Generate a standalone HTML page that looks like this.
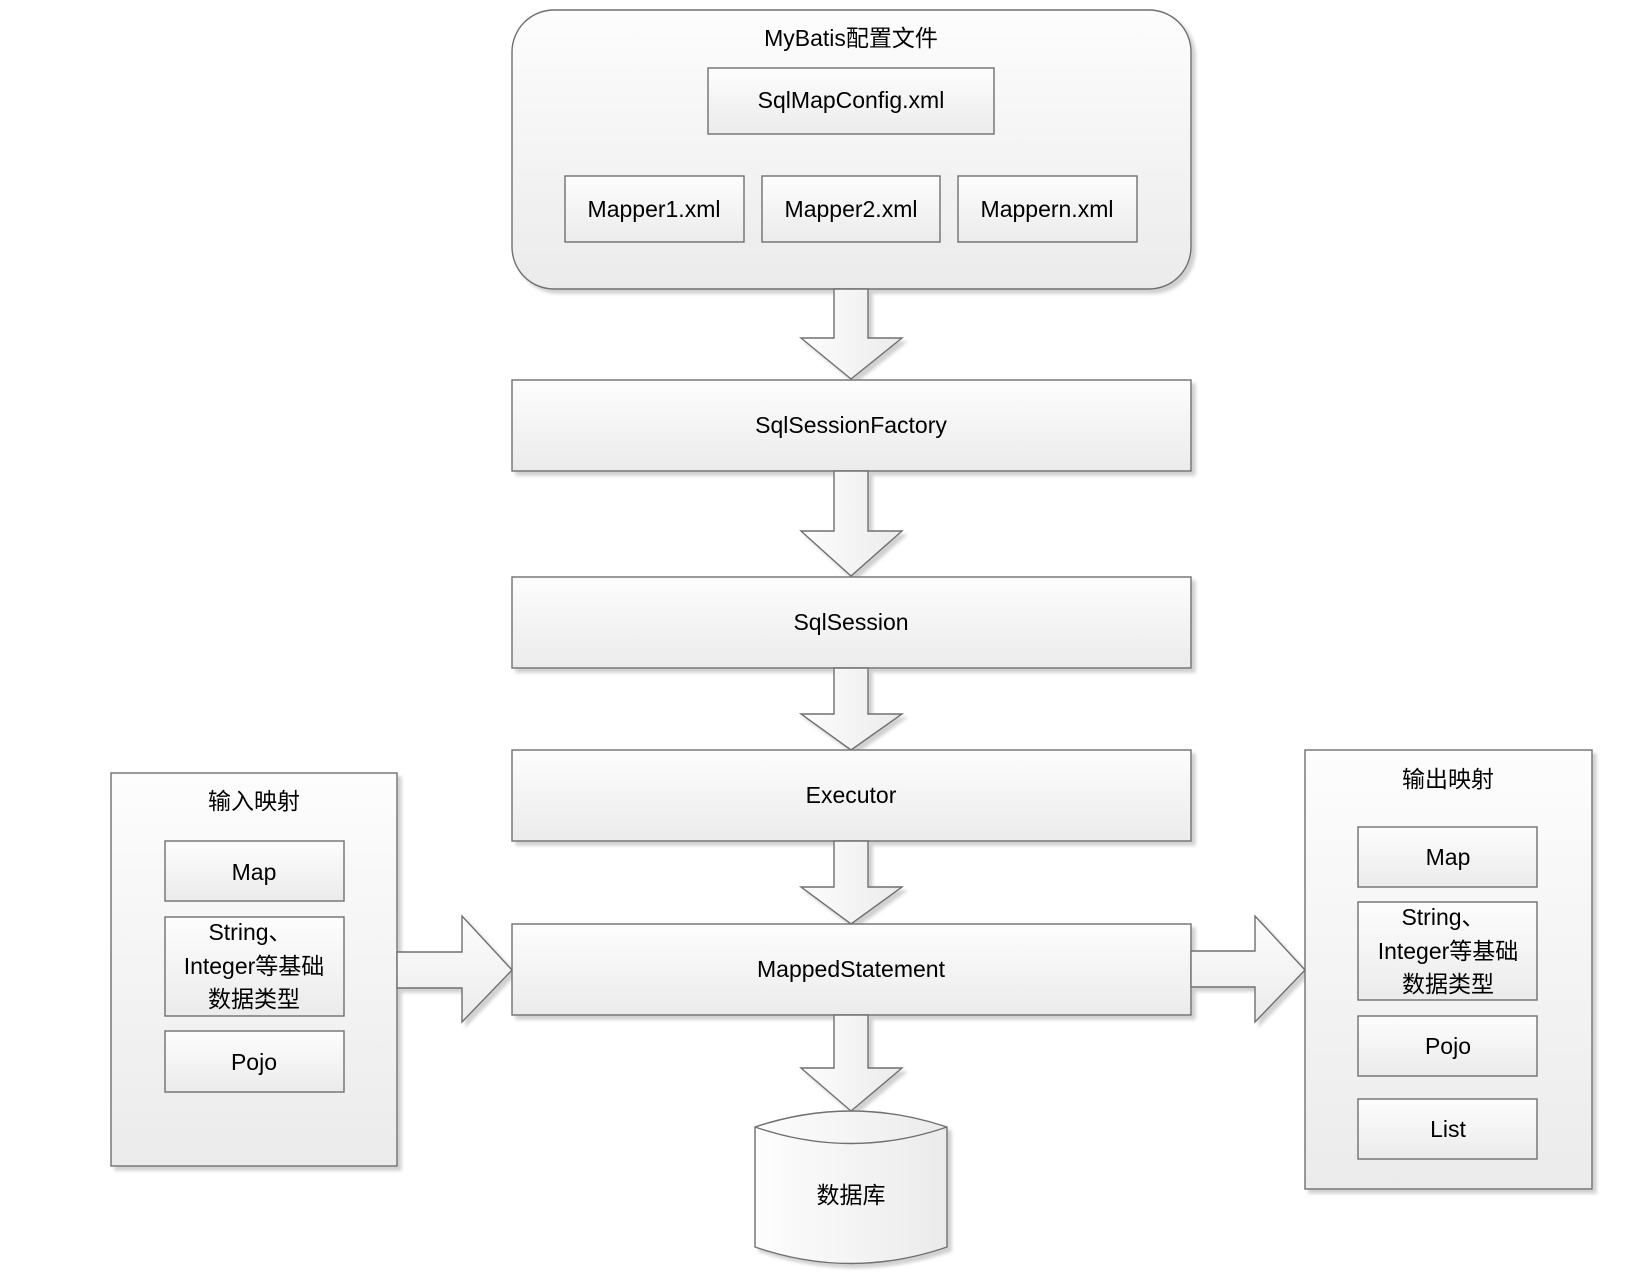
<!DOCTYPE html>
<html><head><meta charset="utf-8"><style>
html,body{margin:0;padding:0;background:#fff}
svg{display:block}
text{font-family:"Liberation Sans","Noto Sans CJK SC",sans-serif;font-size:23px;fill:#000;text-anchor:middle}
</style></head><body>
<svg width="1638" height="1272" viewBox="0 0 1638 1272" xmlns="http://www.w3.org/2000/svg">
<defs>
<linearGradient id="g" x1="0" y1="0" x2="0" y2="1"><stop offset="0" stop-color="#fdfdfd"/><stop offset="1" stop-color="#ebebeb"/></linearGradient>
<linearGradient id="gh" x1="0" y1="0" x2="1" y2="0"><stop offset="0" stop-color="#fdfdfd"/><stop offset="1" stop-color="#ebebeb"/></linearGradient>
<filter id="s" x="-5%" y="-5%" width="115%" height="115%"><feDropShadow dx="4" dy="4" stdDeviation="1.5" flood-color="#000" flood-opacity="0.18"/></filter>
</defs>
<g stroke="#6f6f6f" stroke-width="1.4" filter="url(#s)">
<rect x="512" y="10" width="679" height="279" rx="42" fill="url(#g)"/>
<rect x="708" y="68" width="286" height="66" fill="url(#g)"/>
<rect x="565" y="176" width="179" height="66" fill="url(#g)"/>
<rect x="762" y="176" width="178" height="66" fill="url(#g)"/>
<rect x="958" y="176" width="179" height="66" fill="url(#g)"/>
<polygon points="834,289 868,289 868,338 902,338 851,379 801,338 834,338" fill="url(#gh)"/>
<rect x="512" y="380" width="679" height="91" fill="url(#g)"/>
<polygon points="834,471 868,471 868,531 902,531 851,576 801,531 834,531" fill="url(#gh)"/>
<rect x="512" y="577" width="679" height="91" fill="url(#g)"/>
<polygon points="834,668 868,668 868,714 902,714 851,750 801,714 834,714" fill="url(#gh)"/>
<rect x="512" y="750" width="679" height="91" fill="url(#g)"/>
<polygon points="834,841 868,841 868,887 902,887 851,924 801,887 834,887" fill="url(#gh)"/>
<rect x="512" y="924" width="679" height="91" fill="url(#g)"/>
<polygon points="834,1015 868,1015 868,1068 902,1068 851,1111 801,1068 834,1068" fill="url(#gh)"/>
<path d="M755,1127 Q851,1095 947,1127 L947,1247 Q851,1280 755,1247 Z" fill="url(#gh)"/>
<path d="M755,1127 Q851,1160 947,1127" fill="none"/>
<rect x="111" y="773" width="286" height="393" fill="url(#g)"/>
<rect x="165" y="841" width="179" height="60" fill="url(#g)"/>
<rect x="165" y="917" width="179" height="99" fill="url(#g)"/>
<rect x="165" y="1031" width="179" height="61" fill="url(#g)"/>
<polygon points="397,952 462,952 462,916 512,970 462,1022 462,988 397,988" fill="url(#g)"/>
<polygon points="1191,951 1255,951 1255,916 1305,970 1255,1022 1255,987 1191,987" fill="url(#g)"/>
<rect x="1305" y="750" width="287" height="439" fill="url(#g)"/>
<rect x="1358" y="827" width="179" height="60" fill="url(#g)"/>
<rect x="1358" y="902" width="179" height="98" fill="url(#g)"/>
<rect x="1358" y="1016" width="179" height="60" fill="url(#g)"/>
<rect x="1358" y="1099" width="179" height="60" fill="url(#g)"/>
</g>
<text x="851" y="46">MyBatis配置文件</text>
<text x="851" y="108">SqlMapConfig.xml</text>
<text x="654" y="217">Mapper1.xml</text>
<text x="851" y="217">Mapper2.xml</text>
<text x="1047" y="217">Mappern.xml</text>
<text x="851" y="433">SqlSessionFactory</text>
<text x="851" y="630">SqlSession</text>
<text x="851" y="803">Executor</text>
<text x="851" y="977">MappedStatement</text>
<text x="851" y="1203">数据库</text>
<text x="254" y="809">输入映射</text>
<text x="254" y="880">Map</text>
<text x="250" y="940">String、</text>
<text x="254" y="974">Integer等基础</text>
<text x="254" y="1007">数据类型</text>
<text x="254" y="1070">Pojo</text>
<text x="1448" y="787">输出映射</text>
<text x="1448" y="865">Map</text>
<text x="1443" y="925">String、</text>
<text x="1448" y="959">Integer等基础</text>
<text x="1448" y="992">数据类型</text>
<text x="1448" y="1054">Pojo</text>
<text x="1448" y="1137">List</text>
</svg>
</body></html>
